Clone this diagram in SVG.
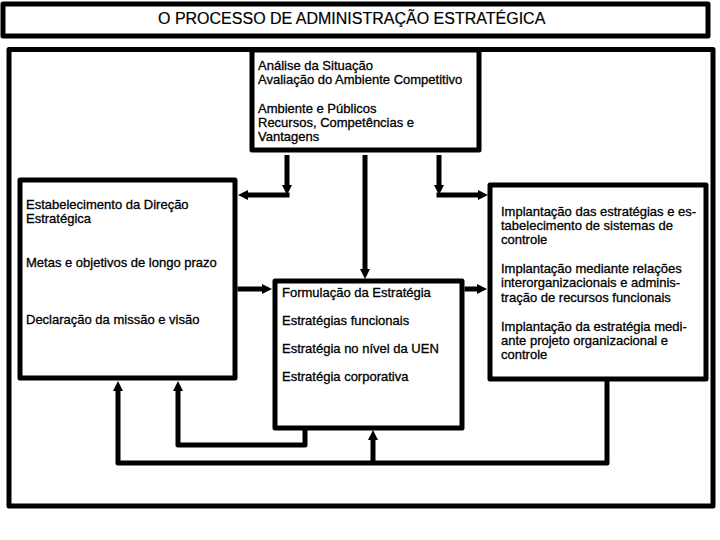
<svg xmlns="http://www.w3.org/2000/svg" width="720" height="540" viewBox="0 0 720 540">
<style>
.box{fill:#fff;stroke:#000;stroke-width:5;stroke-linejoin:round}
.frame{fill:none;stroke:#000;stroke-width:5;stroke-linejoin:round}
.ln{fill:none;stroke:#000;stroke-width:5;stroke-linejoin:round}
.t{font-family:"Liberation Sans",Arial,sans-serif;font-size:13px;fill:#000;stroke:#000;stroke-width:0.3}
.title{font-family:"Liberation Sans",Arial,sans-serif;font-size:16px;fill:#000;stroke:#000;stroke-width:0.2}
</style>
<defs>
<marker id="ah" viewBox="0 0 10 10" refX="1" refY="5" markerWidth="10" markerHeight="10" markerUnits="userSpaceOnUse" orient="auto">
<path d="M0,0 L10,5 L0,10 z" fill="#000"/>
</marker>
</defs>
<rect width="720" height="540" fill="#fff"/>
<g id="title">
<rect class="frame" x="3" y="4" width="705" height="32"/>
<text class="title" x="158" y="24">O PROCESSO DE ADMINISTRAÇÃO ESTRATÉGICA</text>
</g>
<rect id="outer-frame" class="frame" x="9" y="49.5" width="704" height="456.5"/>
<g id="connectors">
<line class="ln" x1="287" y1="155" x2="287" y2="186" marker-end="url(#ah)"/>
<line class="ln" x1="289.5" y1="195" x2="247" y2="195" marker-end="url(#ah)"/>
<line class="ln" x1="365" y1="155" x2="365" y2="270" marker-end="url(#ah)"/>
<line class="ln" x1="439" y1="155" x2="439" y2="186" marker-end="url(#ah)"/>
<line class="ln" x1="436.5" y1="195" x2="479" y2="195" marker-end="url(#ah)"/>
<line class="ln" x1="237.5" y1="289" x2="263" y2="289" marker-end="url(#ah)"/>
<line class="ln" x1="464.5" y1="289" x2="478" y2="289" marker-end="url(#ah)"/>
<path class="ln" d="M305,430 V445 H178 V390" marker-end="url(#ah)"/>
<path class="ln" d="M607,381 V463 H118 V390" marker-end="url(#ah)"/>
<line class="ln" x1="373" y1="463" x2="373" y2="439" marker-end="url(#ah)"/>
</g>
<g id="analise">
<rect class="box" x="252" y="50" width="227" height="100"/>
<text class="t" x="258" y="70">Análise da Situação</text>
<text class="t" x="258" y="84">Avaliação do Ambiente Competitivo</text>
<text class="t" x="258" y="113">Ambiente e Públicos</text>
<text class="t" x="258" y="127">Recursos, Competências e</text>
<text class="t" x="258" y="141">Vantagens</text>
</g>
<g id="direcao">
<rect class="box" x="20" y="180" width="215" height="198"/>
<text class="t" x="26" y="209">Estabelecimento da Direção</text>
<text class="t" x="26" y="223">Estratégica</text>
<text class="t" x="26" y="267">Metas e objetivos de longo prazo</text>
<text class="t" x="26" y="324">Declaração da missão e visão</text>
</g>
<g id="formulacao">
<rect class="box" x="275" y="281" width="187" height="147"/>
<text class="t" x="282" y="297">Formulação da Estratégia</text>
<text class="t" x="282" y="325">Estratégias funcionais</text>
<text class="t" x="282" y="353">Estratégia no nível da UEN</text>
<text class="t" x="282" y="381">Estratégia corporativa</text>
</g>
<g id="implantacao">
<rect class="box" x="490" y="185" width="216" height="194"/>
<text class="t" x="501" y="216">Implantação das estratégias e es-</text>
<text class="t" x="501" y="230">tabelecimento de sistemas de</text>
<text class="t" x="501" y="244">controle</text>
<text class="t" x="501" y="273">Implantação mediante relações</text>
<text class="t" x="501" y="287">interorganizacionais e adminis-</text>
<text class="t" x="501" y="302">tração de recursos funcionais</text>
<text class="t" x="501" y="331">Implantação da estratégia medi-</text>
<text class="t" x="501" y="345">ante projeto organizacional e</text>
<text class="t" x="501" y="359">controle</text>
</g>
</svg>
